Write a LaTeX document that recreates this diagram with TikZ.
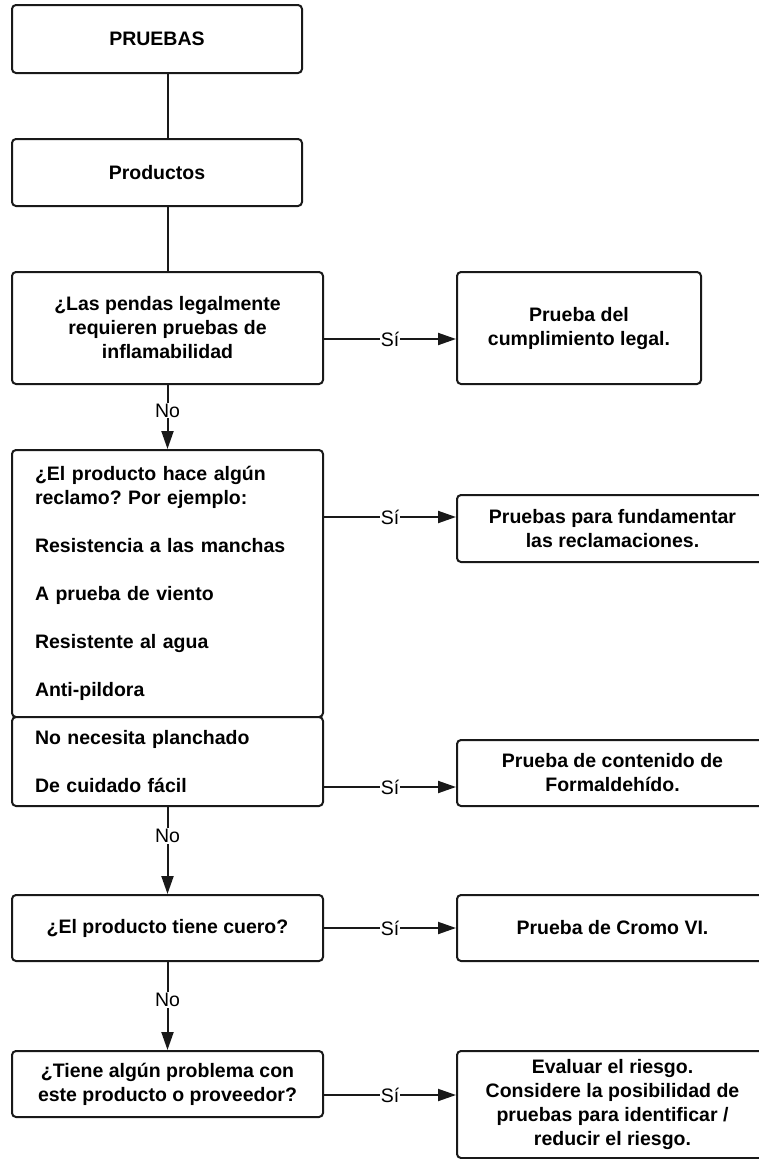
\documentclass[tikz,border=0pt]{standalone}
\usepackage{fontspec}
\setmainfont{Liberation Sans}
\usetikzlibrary{arrows.meta}
\frenchspacing
\begin{document}
\begin{tikzpicture}[x=1pt,y=-1pt,
box/.style ={rectangle, draw=black!90, line width=2pt, fill=white,
  rounded corners=4pt, align=center, inner sep=0pt,
  font=\bfseries\fontsize{19.5}{24}\selectfont
},
list/.style ={box, align=left, text width=265pt, inner xsep=23pt,
  minimum width=311pt
},
link/.style ={line width=2pt, draw=black!90},
arrow/.style ={link, -{Triangle[length=18pt,width=12pt]}},
lbl/.style ={fill=white, inner sep=1pt, font=\fontsize{19.5}{22}\selectfont}
]
\useasboundingbox (0,0) rectangle (759,1159);
% left column
\node (pruebas) at (157,39) [box, minimum width=290pt, minimum height=68pt] {PRUEBAS};
\node (productos) at (157,172.5) [box, minimum width=290pt, minimum height=67pt] {Productos};
\node (legal) at (167.5,328) [box, minimum width=311pt, minimum height=112pt]
  {¿Las pendas legalmente\\requieren pruebas de\\inflamabilidad};
\node (reclamo) at (167.5,583.5) [list, minimum height=267pt]
  {¿El producto hace algún\\reclamo? Por ejemplo:\\[24pt]Resistencia a las manchas\\[24pt]A prueba de viento\\[24pt]Resistente al agua\\[24pt]Anti-pildora};
\node (plancha) at (167.5,761.5) [list, minimum height=89pt]
  {No necesita planchado\\[24pt]De cuidado fácil};
\node (cuero) at (167.5,928) [box, minimum width=311pt, minimum height=66pt] {¿El producto tiene cuero?};
\node (riesgo) at (167.5,1084) [box, minimum width=311pt, minimum height=66pt]
  {¿Tiene algún problema con\\este producto o proveedor?};
% right column
\node (legalsi) at (579,328) [box, minimum width=244pt, minimum height=112pt]
  {Prueba del\\cumplimiento legal.};
\node (reclamosi) at (612.5,528.5) [box, minimum width=311pt, minimum height=67pt]
  {Pruebas para fundamentar\\las reclamaciones.};
\node (planchasi) at (612.5,773) [box, minimum width=311pt, minimum height=66pt]
  {Prueba de contenido de\\Formaldehído.};
\node (cuerosi) at (612.5,928) [box, minimum width=311pt, minimum height=66pt] {Prueba de Cromo VI.};
\node (riesgosi) at (612.5,1104.5) [box, minimum width=311pt, minimum height=107pt]
  {Evaluar el riesgo.\\Considere la posibilidad de\\pruebas para identificar /\\reducir el riesgo.};
% connectors
\draw[link] (pruebas.south -| legal.north) -- (productos.north -| legal.north);
\draw[link] (productos.south -| legal.north) -- (legal.north);
\draw[arrow] (legal) -- node[lbl, pos=0.4] {No} (reclamo);
\draw[arrow] (plancha) -- node[lbl, pos=0.33] {No} (cuero);
\draw[arrow] (cuero) -- node[lbl, pos=0.43] {No} (riesgo);
\draw[arrow] ([yshift=-11pt]legal.east) -- node[lbl] {Sí} ([yshift=-11pt]legalsi.west);
\draw[arrow] ([yshift=66.5pt]reclamo.east) -- node[lbl] {Sí} ([yshift=11.5pt]reclamosi.west);
\draw[arrow] ([yshift=-25.5pt]plancha.east) -- node[lbl] {Sí} ([yshift=-14pt]planchasi.west);
\draw[arrow] (cuero) -- node[lbl] {Sí} (cuerosi);
\draw[arrow] ([yshift=-11pt]riesgo.east) -- node[lbl] {Sí} ([yshift=9.5pt]riesgosi.west);
\end{tikzpicture}
\end{document}
